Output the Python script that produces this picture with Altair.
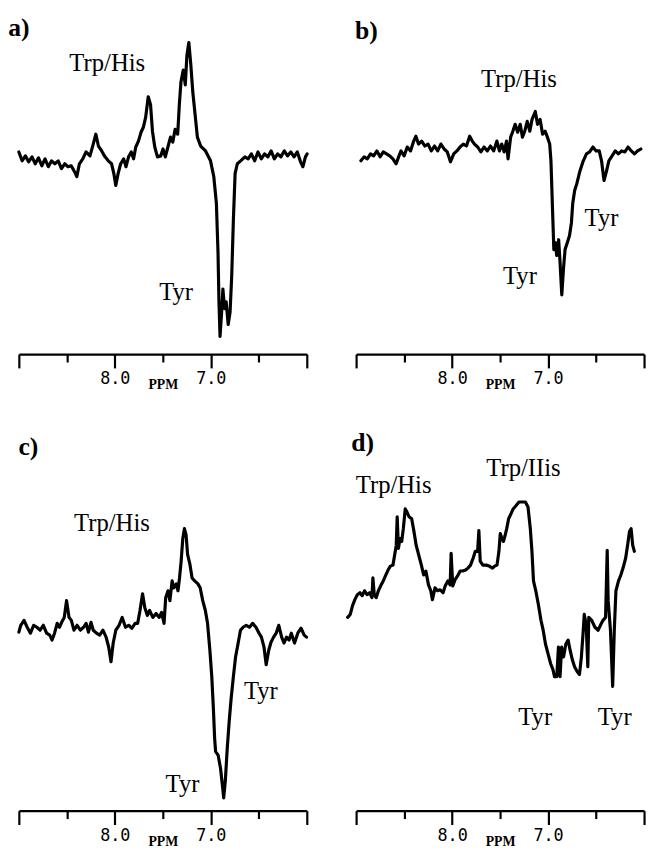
import altair as alt
import pandas as pd

# ---------------- data (ppm, arbitrary intensity) ----------------
A_PPM = [9.000, 8.966, 8.932, 8.898, 8.863, 8.829, 8.795, 8.761, 8.727, 8.693, 8.659, 8.625, 8.590, 8.556,
         8.522, 8.488, 8.454, 8.420, 8.396, 8.369, 8.334, 8.300, 8.259, 8.225, 8.198, 8.171, 8.137, 8.102,
         8.068, 8.034, 8.010, 7.990, 7.966, 7.939, 7.908, 7.884, 7.857, 7.829, 7.805, 7.782, 7.754, 7.727,
         7.703, 7.679, 7.652, 7.628, 7.608, 7.584, 7.556, 7.522, 7.498, 7.474, 7.447, 7.420, 7.396, 7.372,
         7.345, 7.328, 7.311, 7.287, 7.266, 7.249, 7.229, 7.208, 7.188, 7.164, 7.140, 7.106, 7.055, 7.003,
         6.969, 6.942, 6.925, 6.915, 6.904, 6.887, 6.874, 6.857, 6.840, 6.819, 6.799, 6.782, 6.765, 6.747,
         6.724, 6.689, 6.645, 6.611, 6.577, 6.543, 6.509, 6.474, 6.440, 6.406, 6.372, 6.338, 6.304, 6.270,
         6.235, 6.201, 6.167, 6.133, 6.099, 6.065, 6.041, 6.014, 5.997]
A_INT = [7, -2, 3, -3, 2, -5, 1, -7, 0, -8, -2, -5, -2, -10,
         -5, -8, -7, -13, -18, -5, 0, 7, 3, 15, 25, 13, 8, 2,
         -2, -5, -15, -27, -15, -5, 0, -8, 2, 7, 0, 12, 18, 27,
         32, 42, 63, 55, 28, 12, 2, 3, 10, 2, 12, 22, 17, 30,
         25, 55, 78, 90, 75, 105, 118, 95, 68, 45, 22, 13, 8, -2,
         -18, -45, -95, -145, -180, -155, -132, -152, -145, -168, -155, -118, -62, -15,
         -5, -2, 2, 0, 5, -2, 7, 0, 5, 2, 8, 0, 5, 2,
         8, 3, 7, 2, 7, -3, -8, 2, 5]

B_PPM = [8.950, 8.917, 8.883, 8.850, 8.817, 8.783, 8.750, 8.717, 8.683, 8.650, 8.617, 8.583, 8.557, 8.533,
         8.500, 8.467, 8.433, 8.400, 8.377, 8.350, 8.317, 8.283, 8.250, 8.217, 8.183, 8.150, 8.117, 8.083,
         8.050, 8.017, 7.983, 7.950, 7.917, 7.883, 7.850, 7.817, 7.790, 7.767, 7.733, 7.700, 7.667, 7.633,
         7.600, 7.567, 7.533, 7.507, 7.483, 7.457, 7.433, 7.417, 7.390, 7.367, 7.343, 7.317, 7.290, 7.267,
         7.243, 7.217, 7.190, 7.167, 7.133, 7.110, 7.083, 7.057, 7.030, 7.007, 6.983, 6.970, 6.960, 6.950,
         6.940, 6.923, 6.910, 6.890, 6.877, 6.857, 6.840, 6.823, 6.800, 6.777, 6.757, 6.743, 6.723, 6.700,
         6.667, 6.633, 6.600, 6.567, 6.533, 6.500, 6.467, 6.443, 6.417, 6.390, 6.367, 6.333, 6.300, 6.267,
         6.233, 6.200, 6.167, 6.133, 6.100, 6.067, 6.033]
B_INT = [-2, 2, 0, 5, 3, 8, 2, 7, 5, 3, 0, -5, 2, 8,
         3, 12, 8, 18, 23, 15, 18, 13, 15, 8, 13, 8, 15, 10,
         7, -3, 5, 8, 12, 15, 13, 23, 18, 15, 12, 7, 12, 8,
         13, 8, 18, 8, 15, 7, 18, 0, 22, 28, 35, 27, 35, 22,
         28, 38, 28, 40, 48, 35, 40, 25, 28, 22, 15, -2, -32, -62,
         -92, -85, -98, -82, -102, -138, -112, -92, -85, -78, -65, -45, -32, -25,
         -12, -2, 5, 7, 12, 8, 8, -2, -22, -12, -2, 3, 8, 5,
         8, 7, 12, 8, 5, 8, 10]

C_PPM = [9.000, 8.980, 8.946, 8.913, 8.879, 8.846, 8.812, 8.779, 8.745, 8.711, 8.678, 8.654, 8.628, 8.601,
         8.577, 8.554, 8.527, 8.503, 8.477, 8.453, 8.426, 8.393, 8.359, 8.326, 8.299, 8.275, 8.248, 8.225,
         8.191, 8.158, 8.124, 8.091, 8.064, 8.040, 8.017, 7.990, 7.956, 7.923, 7.889, 7.856, 7.822, 7.789,
         7.762, 7.738, 7.711, 7.688, 7.661, 7.638, 7.604, 7.570, 7.537, 7.513, 7.487, 7.470, 7.446, 7.426,
         7.403, 7.386, 7.359, 7.342, 7.326, 7.309, 7.292, 7.275, 7.258, 7.242, 7.218, 7.195, 7.168, 7.134,
         7.111, 7.084, 7.057, 7.034, 7.010, 6.990, 6.973, 6.960, 6.950, 6.923, 6.899, 6.876, 6.866, 6.849,
         6.829, 6.809, 6.789, 6.765, 6.742, 6.715, 6.691, 6.664, 6.631, 6.597, 6.564, 6.530, 6.497, 6.473,
         6.446, 6.423, 6.396, 6.372, 6.346, 6.319, 6.292, 6.262, 6.238, 6.211, 6.185, 6.161, 6.128, 6.094,
         6.060, 6.027, 6.003]
C_INT = [-2, 5, 10, 3, -3, 5, 3, 0, 5, -3, -5, -10, -3, 7,
         3, 8, 13, 30, 13, 10, 0, 5, 0, 3, 7, -2, 8, 0,
         -3, -5, 0, -7, -17, -32, -13, 0, 5, 13, 3, 5, 2, 7,
         7, 20, 37, 23, 15, 20, 13, 17, 13, 18, 7, 33, 40, 30,
         50, 43, 47, 40, 53, 70, 93, 103, 97, 77, 67, 53, 50, 47,
         43, 30, 20, 7, -20, -47, -80, -110, -123, -127, -140, -160, -170, -153,
         -120, -93, -70, -47, -27, -13, 0, 3, 5, 3, 7, 3, -3, -7,
         -17, -35, -20, -12, -7, -3, 5, -7, -13, -7, -10, -3, -13, -3,
         2, -5, -7]

D_PPM = [9.088, 9.061, 9.037, 9.013, 8.987, 8.960, 8.936, 8.912, 8.886, 8.859, 8.835, 8.825, 8.811, 8.791,
         8.768, 8.744, 8.717, 8.690, 8.667, 8.643, 8.616, 8.599, 8.582, 8.572, 8.559, 8.542, 8.525, 8.508,
         8.488, 8.471, 8.448, 8.421, 8.397, 8.374, 8.347, 8.320, 8.296, 8.273, 8.246, 8.222, 8.205, 8.178,
         8.152, 8.125, 8.094, 8.071, 8.044, 8.020, 8.010, 7.993, 7.970, 7.943, 7.916, 7.889, 7.859, 7.835,
         7.808, 7.781, 7.758, 7.734, 7.721, 7.707, 7.680, 7.646, 7.613, 7.579, 7.556, 7.532, 7.512, 7.498,
         7.481, 7.465, 7.448, 7.431, 7.411, 7.387, 7.364, 7.337, 7.303, 7.269, 7.236, 7.209, 7.185, 7.168,
         7.152, 7.128, 7.101, 7.074, 7.051, 7.027, 7.000, 6.973, 6.949, 6.933, 6.909, 6.892, 6.875, 6.859,
         6.838, 6.815, 6.791, 6.771, 6.747, 6.724, 6.697, 6.673, 6.653, 6.636, 6.623, 6.603, 6.586, 6.576,
         6.545, 6.512, 6.478, 6.455, 6.428, 6.401, 6.384, 6.374, 6.350, 6.327, 6.310, 6.293, 6.266, 6.242,
         6.219, 6.192, 6.172, 6.152, 6.135, 6.118, 6.101]
D_INT = [0, 3, 12, 18, 23, 25, 22, 27, 23, 25, 20, 40, 23, 20,
         27, 32, 37, 43, 48, 52, 53, 63, 73, 102, 70, 80, 77, 90,
         110, 107, 102, 100, 87, 73, 63, 53, 43, 47, 33, 27, 18, 30,
         27, 28, 25, 32, 37, 33, 65, 32, 38, 42, 47, 47, 48, 50,
         53, 60, 67, 67, 88, 57, 53, 53, 52, 50, 52, 53, 67, 85,
         80, 77, 83, 90, 100, 105, 110, 113, 117, 117, 117, 112, 90, 67,
         37, 27, 13, -3, -13, -27, -37, -47, -53, -60, -60, -30, -60, -30,
         -40, -27, -23, -33, -43, -50, -55, -58, -40, -17, 3, -7, -50, 0,
         -3, -10, -13, -8, -3, 0, 68, 17, -13, -70, -13, 27, 37, 43,
         50, 60, 73, 87, 90, 73, 67]

# annotations: (text, ppm, intensity)
A_LETTER = [("a)", 9.0, 133)]
A_NOTES = [("Trp/His", 8.079, 97), ("Tyr", 7.362, -135)]
B_LETTER = [("b)", 8.893, 130)]
B_NOTES = [("Trp/His", 7.303, 81), ("Tyr", 6.443, -60), ("Tyr", 7.293, -119)]
C_LETTER = [("c)", 8.90, 186)]
C_NOTES = [("Trp/His", 8.030, 109), ("Tyr", 6.479, -62), ("Tyr", 7.295, -156)]
D_LETTER = [("d)", 8.932, 177)]
D_NOTES = [("Trp/His", 8.609, 134), ("Trp/IIis", 7.256, 151), ("Tyr", 7.134, -101), ("Tyr", 6.306, -101)]

MAJOR_TICKS = [9.0, 8.0, 7.0, 6.0]
MINOR_TICKS = [8.5, 7.5, 6.5]
LABELED = [8.0, 7.0]
PPM_DOMAIN = [6.0, 9.0]

Y_TOP = [-198, 145]
Y_BOT_C = [-183, 200]
Y_BOT_D = [-196, 187]

W = 292
H_TOP = 343
H_BOT = 383

SERIF = "Liberation Serif"


def panel(ppm, inten, letter, notes, ydom, height):
    df = pd.DataFrame({"ppm": ppm, "int": inten, "i": list(range(len(ppm)))})
    test = " || ".join(f"datum.value === {v}" for v in LABELED)
    xscale = alt.Scale(domain=PPM_DOMAIN, reverse=True, nice=False, zero=False)
    x_major = alt.X(
        "ppm:Q",
        scale=xscale,
        axis=alt.Axis(
            orient="bottom",
            values=MAJOR_TICKS,
            grid=False,
            domainColor="black",
            domainWidth=2.2,
            tickColor="black",
            tickWidth=2.2,
            tickSize=14,
            labelExpr=f"({test}) ? format(datum.value, '.1f') : ''",
            labelFont="DejaVu Sans Mono",
            labelFontSize=17,
            labelColor="black",
            labelPadding=3,
            labelOverlap=False,
            labelFlush=False,
            title="PPM",
            titleFont=SERIF,
            titleFontWeight="bold",
            titleFontSize=14,
            titleColor="black",
            titleBaseline="alphabetic",
            titleY=35,
        ),
    )
    x_minor = alt.X(
        "ppm:Q",
        scale=xscale,
        axis=alt.Axis(
            orient="bottom",
            values=MINOR_TICKS,
            grid=False,
            domain=False,
            labels=False,
            tickColor="black",
            tickWidth=2.2,
            tickSize=8,
            title=None,
        ),
    )
    x_plain = alt.X("ppm:Q", scale=xscale, axis=None)
    yenc = alt.Y("int:Q", scale=alt.Scale(domain=ydom, nice=False, zero=False), axis=None)

    line = alt.Chart(df).mark_line(
        color="black", strokeWidth=3.2, strokeJoin="round", strokeCap="round"
    ).encode(x=x_major, y=yenc, order="i:Q")

    ldf = pd.DataFrame(letter, columns=["label", "ppm", "int"])
    ndf = pd.DataFrame(notes, columns=["label", "ppm", "int"])
    let = alt.Chart(ldf).mark_text(
        font=SERIF, fontSize=26, fontWeight="bold", color="black", baseline="middle", align="center"
    ).encode(x=x_minor, y=yenc, text="label:N")
    nt = alt.Chart(ndf).mark_text(
        font=SERIF, fontSize=25, color="black", baseline="middle", align="center"
    ).encode(x=x_plain, y=yenc, text="label:N")
    return (
        alt.layer(line, let, nt)
        .resolve_axis(x="independent")
        .properties(width=W, height=height)
    )


pa = panel(A_PPM, A_INT, A_LETTER, A_NOTES, Y_TOP, H_TOP)
pb = panel(B_PPM, B_INT, B_LETTER, B_NOTES, Y_TOP, H_TOP)
pc = panel(C_PPM, C_INT, C_LETTER, C_NOTES, Y_BOT_C, H_BOT)
pd_ = panel(D_PPM, D_INT, D_LETTER, D_NOTES, Y_BOT_D, H_BOT)

chart = alt.concat(
    pa, pb, pc, pd_, columns=2, spacing={"row": 80, "column": 50}, bounds="flush"
).properties(
    padding={"left": 0, "top": 0, "right": 2, "bottom": 2},
    background="white",
).configure_view(stroke=None)

chart.save("out.html", embed_options={"renderer": "svg", "actions": False})
